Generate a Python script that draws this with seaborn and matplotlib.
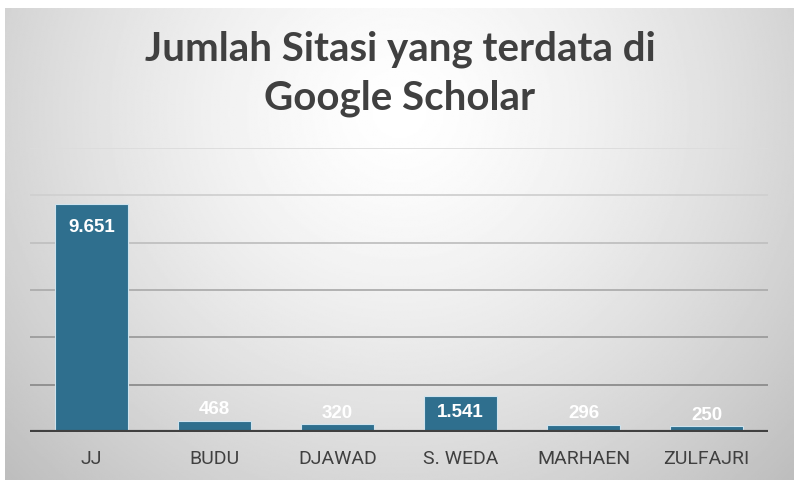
import numpy as np
import pandas as pd
import seaborn as sns
import matplotlib.pyplot as plt

penulis = ["JJ", "BUDU", "DJAWAD", "S. WEDA", "MARHAEN", "ZULFAJRI"]
sitasi = [9651, 468, 320, 1541, 296, 250]
label_sitasi = ["9.651", "468", "320", "1.541", "296", "250"]
judul = "Jumlah Sitasi yang terdata di\nGoogle Scholar"

df = pd.DataFrame({"penulis": penulis, "sitasi": sitasi})

sns.set_theme(style="white")
plt.rcParams["font.family"] = ["Roboto", "DejaVu Sans"]

fig = plt.figure(figsize=(8, 4.89), dpi=100)
fig.patch.set_facecolor("white")

# latar belakang dengan gradasi radial (putih di tengah, abu di tepi)
bg = fig.add_axes([5 / 800, 8 / 489, 789 / 800, 472 / 489])
ny, nx = 300, 500
yy, xx = np.mgrid[0:1:ny * 1j, 0:1:nx * 1j]
r = np.sqrt(((xx - 0.5) / 0.62) ** 2 + ((yy - 0.78) / 1.0) ** 2)
grad = 1.0 - 0.22 * np.clip(r, 0, 1.2) ** 1.4
bg.imshow(grad, cmap="gray", vmin=0, vmax=1, origin="lower", aspect="auto",
          extent=[0, 1, 0, 1])
bg.set_axis_off()

ax = fig.add_axes([30 / 800, 56 / 489, 738 / 800, 284 / 489])
ax.patch.set_alpha(0)

# garis bantu, makin ke bawah makin gelap
warna_grid = ["#8c8c8c", "#9c9c9c", "#adadad", "#c0c0c0", "#d0d0d0", "#dcdcdc"]
for i, w in enumerate(warna_grid):
    ax.axhline((i + 1) * 2000, color=w, lw=1.3, zorder=0)

sns.barplot(data=df, x="penulis", y="sitasi", color="#2f6f8e", width=0.59,
            edgecolor="#cfe3ee", linewidth=0.8, saturation=1, ax=ax, zorder=2)
ax.axhline(0, color="#404040", lw=3, zorder=3)

ax.set_ylim(0, 12000)
ax.set_xlim(-0.5, len(penulis) - 0.5)
ax.set_yticks([])
ax.set_xlabel("")
ax.set_ylabel("")
for s in ax.spines.values():
    s.set_visible(False)
ax.tick_params(axis="x", length=0, pad=12, labelsize=14, labelcolor="#404040")

px_per_unit = 284 / 12000
for bar, teks, v in zip(ax.patches, label_sitasi, sitasi):
    tinggi_px = v * px_per_unit
    if v > 1000:
        off = -min(23, tinggi_px / 2 - 2)
    else:
        off = 12
    ax.annotate(teks, (bar.get_x() + bar.get_width() / 2, v),
                xytext=(0, off * 0.72), textcoords="offset points",
                ha="center", va="center", color="white", fontsize=13.5,
                fontweight="bold", family=["Liberation Sans", "DejaVu Sans"],
                zorder=4)

fig.text(0.5, 0.849, judul, ha="center", va="center", fontsize=29,
         fontweight="bold", color="#404040", family=["Lato", "DejaVu Sans"],
         linespacing=1.4)

fig.savefig("out.png", dpi=100)
